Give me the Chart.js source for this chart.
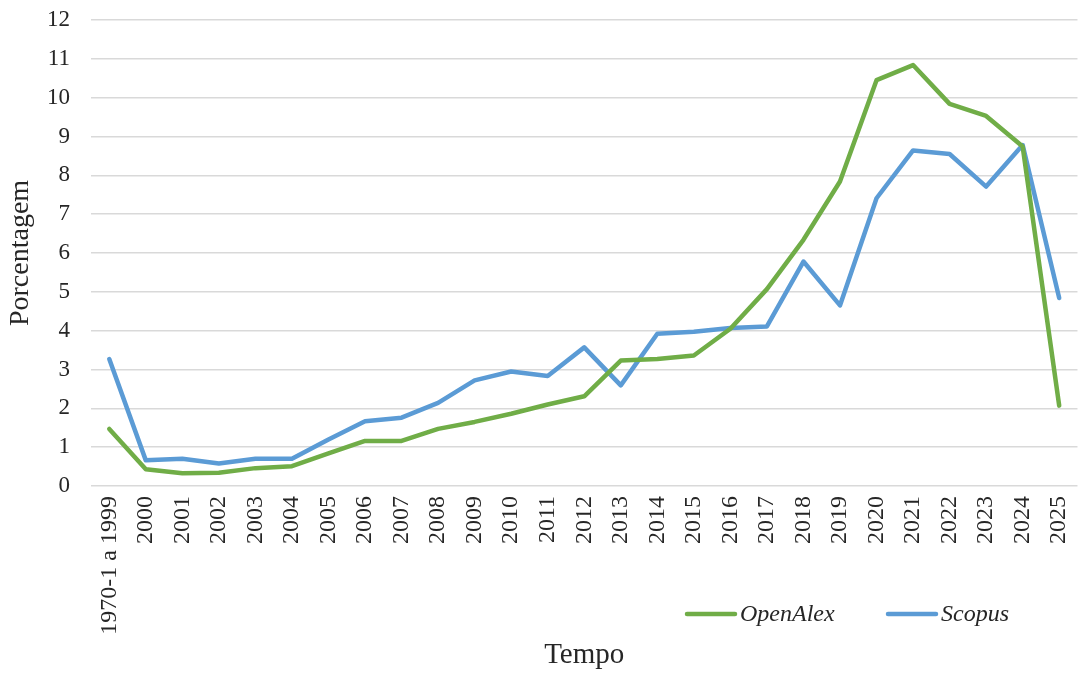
<!DOCTYPE html>
<html>
<head>
<meta charset="utf-8">
<script src="https://cdn.jsdelivr.net/npm/chart.js@4.4.1/dist/chart.umd.min.js"></script>
<style>
    html, body { margin: 0; padding: 0; overflow: hidden; background: #fff; }
    #wrap { width: 1098px; height: 673px; position: relative; }
</style>
</head>
<body>
<div id="wrap"><canvas id="mainChart"></canvas></div>
<script>
const years = ['1970-1 a 1999', '2000', '2001', '2002', '2003', '2004', '2005', '2006', '2007',
    '2008', '2009', '2010', '2011', '2012', '2013', '2014', '2015', '2016', '2017', '2018',
    '2019', '2020', '2021', '2022', '2023', '2024', '2025'];
const openAlex = [1.47, 0.43, 0.33, 0.34, 0.46, 0.51, 0.84, 1.16, 1.16, 1.47, 1.65, 1.86, 2.10,
    2.31, 3.23, 3.27, 3.36, 4.05, 5.07, 6.34, 7.84, 10.45, 10.84, 9.84, 9.53, 8.74, 2.07];
const scopus = [3.27, 0.66, 0.70, 0.58, 0.70, 0.70, 1.20, 1.67, 1.76, 2.14, 2.72, 2.95, 2.83,
    3.57, 2.59, 3.92, 3.97, 4.07, 4.11, 5.78, 4.65, 7.41, 8.64, 8.55, 7.71, 8.78, 4.84];
const yTicks = [0, 1, 2, 3, 4, 5, 6, 7, 8, 9, 10, 11, 12];

const serif = "'Liberation Serif', 'Times New Roman', serif";
const textColor = '#262626';

// legend drawn under the plot, next to the long first label
const bottomLegend = {
    id: 'bottomLegend',
    afterDraw(chart) {
        const ctx = chart.ctx;
        const y = 614;
        let x = 687;
        ctx.save();
        ctx.font = "italic 24px " + serif;
        ctx.textBaseline = 'middle';
        chart.data.datasets.forEach(ds => {
            ctx.strokeStyle = ds.borderColor;
            ctx.lineWidth = 4.5;
            ctx.lineCap = 'round';
            ctx.beginPath();
            ctx.moveTo(x, y);
            ctx.lineTo(x + 48, y);
            ctx.stroke();
            ctx.fillStyle = textColor;
            ctx.fillText(ds.label, x + 53, y + 1);
            x += 201;
        });
        ctx.restore();
    }
};

const mainChart = new Chart(document.getElementById('mainChart'), {
    type: 'line',
    data: {
        labels: years,
        datasets: [
            { label: 'OpenAlex', data: openAlex, borderColor: '#70ad47' },
            { label: 'Scopus', data: scopus, borderColor: '#5b9bd5' }
        ]
    },
    options: {
        responsive: true,
        maintainAspectRatio: false,
        animation: false,
        devicePixelRatio: 1,
        layout: { padding: { top: 20, left: 0, right: 0, bottom: 0 } },
        elements: {
            point: { radius: 0 },
            line: { borderWidth: 4.5, tension: 0, borderJoinStyle: 'round', borderCapStyle: 'round', fill: false }
        },
        plugins: { legend: { display: false }, tooltip: { enabled: false } },
        scales: {
            x: {
                offset: true,
                grid: { display: false, drawTicks: false },
                border: { display: false },
                ticks: {
                    autoSkip: false, minRotation: 90, maxRotation: 90, padding: 10,
                    color: textColor, font: { family: serif, size: 24 }
                },
                title: {
                    display: true, text: 'Tempo', color: textColor,
                    font: { family: serif, size: 29 }, padding: { top: 0, bottom: 0 }
                },
                afterFit(scale) {
                    scale.height = 187;
                    scale.paddingTop = 0;
                    scale.paddingBottom = 0;
                }
            },
            y: {
                min: 0, max: 12,
                afterBuildTicks(scale) { scale.ticks = yTicks.map(v => ({ value: v })); },
                grid: { color: '#d9d9d9', lineWidth: 1.5, drawTicks: false },
                border: { display: false },
                ticks: { padding: 21, color: textColor, font: { family: serif, size: 23 } },
                title: {
                    display: true, text: 'Porcentagem', color: textColor,
                    font: { family: serif, size: 28 }, padding: { top: 4, bottom: 0 }
                },
                afterFit(scale) {
                    scale.width = 91;
                    scale.paddingTop = 0;
                    scale.paddingBottom = 0;
                }
            }
        }
    },
    plugins: [bottomLegend]
});
</script>
</body>
</html>
